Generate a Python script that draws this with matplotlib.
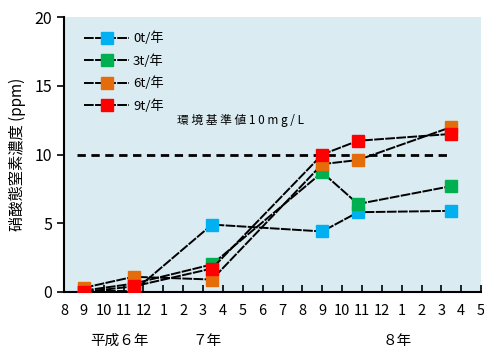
import matplotlib
matplotlib.use("Agg")
import matplotlib.pyplot as plt

plt.rcParams['font.family'] = ['Noto Sans CJK JP', 'DejaVu Sans']

# months from Aug (平成6年) to May (8年)
month_labels = ["8", "9", "10", "11", "12", "1", "2", "3", "4", "5", "6", "7",
                "8", "9", "10", "11", "12", "1", "2", "3", "4", "5"]

# sampling dates as month positions (0 = Aug 平成6年)
sample_x = [1.0, 3.5, 7.45, 13.0, 14.8, 19.5]

nitrate_0t = [0.1, 0.05, 4.9, 4.4, 5.8, 5.9]
nitrate_3t = [0.1, 0.6, 2.0, 8.7, 6.4, 7.7]
nitrate_6t = [0.3, 1.1, 0.9, 9.3, 9.6, 12.0]
nitrate_9t = [0.0, 0.4, 1.7, 10.0, 11.0, 11.5]

series = [
    ("0t/年", nitrate_0t, "#00B0F0"),
    ("3t/年", nitrate_3t, "#00B050"),
    ("6t/年", nitrate_6t, "#E46C0A"),
    ("9t/年", nitrate_9t, "#FF0000"),
]

standard = 10

fig = plt.figure(figsize=(4.85, 3.5), dpi=100)
ax = fig.add_axes([0.132, 0.166, 0.860, 0.785])
ax.set_facecolor("#DAEBF2")

for label, vals, color in series:
    ax.plot(sample_x, vals, color="black", lw=1.4, ls=(0, (5, 0.7)),
            marker="s", markersize=9, markerfacecolor=color,
            markeredgecolor=color, label=label, zorder=3)

# environmental standard
ax.plot([0.65, 19.5], [standard, standard], color="black", lw=2,
        ls=(0, (3, 2)), zorder=2)
ax.text(5.7, 12.5, "環 境 基 準 値 1 0 m g / L", fontsize=8.5, va="center")

ax.set_xlim(0, 21)
ax.set_ylim(0, 20)
ax.set_xticks(range(len(month_labels)))
ax.set_xticklabels(month_labels, fontsize=10.5)
ax.set_yticks([0, 5, 10, 15, 20])
ax.tick_params(axis="x", direction="in", length=5, width=1.2, pad=9)
ax.tick_params(axis="y", direction="out", length=5, width=1.2, labelsize=11.5)
ax.spines["top"].set_visible(False)
ax.spines["right"].set_visible(False)
ax.spines["left"].set_linewidth(1.5)
ax.spines["bottom"].set_linewidth(1.5)

ax.set_ylabel("硝酸態窒素濃度 (ppm)", fontsize=11, labelpad=6)

for xpos, txt in [(2.8, "平成６年"), (7.2, "７年"), (16.8, "８年")]:
    ax.text(xpos, -3.55, txt, fontsize=10.5, ha="center", va="center",
            clip_on=False)

leg = ax.legend(loc="upper left", bbox_to_anchor=(0.02, 0.99), frameon=False,
                fontsize=9.5, handlelength=3.4, labelspacing=0.68,
                handletextpad=0.3)

plt.savefig("out.png", dpi=100)
